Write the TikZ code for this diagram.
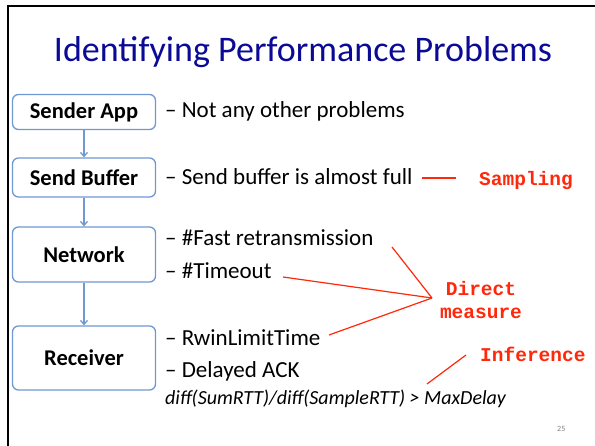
\documentclass[tikz,border=0pt]{standalone}
\usepackage{fontspec}
\setmainfont{Carlito}
\newfontfamily\codefont{Liberation Mono}
\usetikzlibrary{arrows.meta}
\definecolor{titleblue}{RGB}{10,10,150}
\definecolor{boxblue}{RGB}{112,152,210}
\definecolor{notered}{RGB}{255,40,10}
\tikzset{
  stage/.style={draw=boxblue, line width=1.3pt, rounded corners=6pt, minimum width=143pt,
    text=black, font=\fontsize{22.5}{26}\selectfont\bfseries, inner sep=0pt},
  flow/.style={draw=boxblue, line width=1.3pt, -{Straight Barb[length=4pt,width=7pt]}},
  item/.style={anchor=base west, inner sep=0pt, font=\fontsize{23}{27}\selectfont},
  tag/.style={text=notered, font=\codefont\fontsize{19.5}{24}\selectfont\bfseries, inner sep=0pt, align=center},
  pointer/.style={draw=notered, line width=1.2pt}
}
\begin{document}
\begin{tikzpicture}[x=1pt,y=-1pt]
\useasboundingbox (0,0) rectangle (595,446);
\fill[white] (0,0) rectangle (595,446);
% slide frame
\draw[line width=2pt] (595,6) -- (8,6) -- (8,446);
% title
\node[text=titleblue, font=\fontsize{36}{42}\selectfont, inner sep=0pt, anchor=base] (title) at (303,62) {Identifying Performance Problems};
% stages
\node[stage, minimum height=35pt] (app) at (84,112) {Sender App};
\node[stage, minimum height=39pt] (buf) at (84,177.5) {Send Buffer};
\node[stage, minimum height=55pt] (net) at (84,254.5) {Network};
\node[stage, minimum height=64pt] (rcv) at (84,358) {Receiver};
\draw[flow] (app) -- (buf);
\draw[flow] (buf) -- (net);
\draw[flow] (net) -- (rcv);
% symptoms
\node[item] (t1) at (165,118) {– Not any other problems};
\node[item] (t2) at (165,185) {– Send buffer is almost full};
\node[item] (t3) at (165,246) {– \#Fast retransmission};
\node[item] (t4) at (165,279) {– \#Timeout};
\node[item] (t5) at (165,346) {– RwinLimitTime};
\node[item] (t6) at (165,378) {– Delayed ACK};
\node[item, font=\fontsize{20}{24}\selectfont\itshape] (t7) at (165,405) {diff(SumRTT)/diff(SampleRTT) > MaxDelay};
% measurement methods
\node[tag, anchor=base west] (samp) at (479,186) {Sampling};
\node[tag] (dm) at (481,300) {Direct\\[-1pt]measure};
\node[tag, anchor=base west] (inf) at (480,362) {Inference};
\node[font=\fontsize{8}{10}\selectfont, text=gray, inner sep=0pt, anchor=base west] (pg) at (557,432) {25};
% pointers
\coordinate (s1) at (422,178);
\coordinate (s2) at (456,178);
\coordinate (hub) at (432,298);
\coordinate (d1) at (392,247);
\coordinate (d2) at (283,277);
\coordinate (d3) at (329,335);
\coordinate (i1) at (466,355);
\coordinate (i2) at (427,384);
\draw[pointer] (s1) -- (s2);
\draw[pointer] (d1) -- (hub);
\draw[pointer] (d2) -- (hub);
\draw[pointer] (d3) -- (hub);
\draw[pointer] (i1) -- (i2);
\end{tikzpicture}
\end{document}
